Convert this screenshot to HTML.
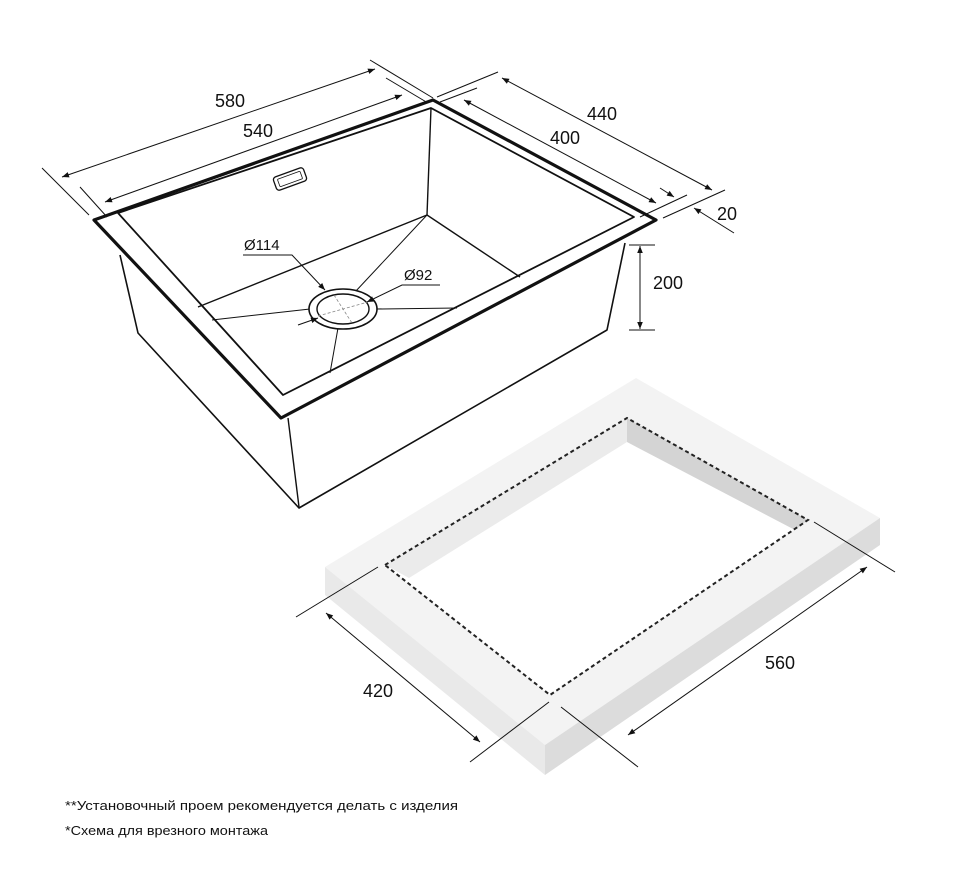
<!DOCTYPE html>
<html><head><meta charset="utf-8"><style>
html,body{margin:0;padding:0;background:#fff;}
svg{display:block;}
text{font-family:"Liberation Sans",sans-serif;fill:#111;}
</style></head><body>
<svg width="960" height="892" viewBox="0 0 960 892" xmlns="http://www.w3.org/2000/svg">
<defs>
<marker id="a" viewBox="0 0 10 10" refX="10" refY="5" markerWidth="9" markerHeight="7" orient="auto-start-reverse" markerUnits="userSpaceOnUse"><path d="M0,1 L10,5 L0,9 z" fill="#111"/></marker>
</defs>

<!-- Countertop -->
<polygon points="325,567 636,378 880,518 545,745" fill="#f3f3f3"/>
<polygon points="325,567 545,745 545,775 325,595" fill="#e9e9e9"/>
<polygon points="545,745 880,518 880,545 545,775" fill="#dcdcdc"/>
<polygon points="385,565 627,418 808,520 550,695" fill="#fff"/>
<polygon points="385,565 627,418 627,442 409,578" fill="#ebebeb"/>
<polygon points="627,418 808,520 795,530 627,442" fill="#d4d4d4"/>
<polygon points="385,565 627,418 808,520 550,695" fill="none" stroke="#222" stroke-width="2" stroke-dasharray="4,3"/>

<g stroke="#111" stroke-width="1" fill="none">
<line x1="296" y1="617" x2="378" y2="567"/>
<line x1="470" y1="762" x2="549" y2="702"/>
<line x1="326" y1="613" x2="480" y2="742" marker-start="url(#a)" marker-end="url(#a)"/>
<line x1="561" y1="707" x2="638" y2="767"/>
<line x1="814" y1="522" x2="895" y2="572"/>
<line x1="628" y1="735" x2="867" y2="567" marker-start="url(#a)" marker-end="url(#a)"/>
</g>
<text x="378" y="697" font-size="18" text-anchor="middle">420</text>
<text x="780" y="669" font-size="18" text-anchor="middle">560</text>

<!-- Sink body -->
<g stroke="#111" fill="none" stroke-linejoin="round">
<polyline points="120,255 138,333 299,508 607,330 625,243" stroke-width="1.6"/>
<line x1="288" y1="418" x2="299" y2="507" stroke-width="1.4"/>
<polygon points="94,220 433,100 656,220 281,418" stroke-width="3.2"/>
<polygon points="118,213 431,108 634,217 283,395" stroke-width="1.8"/>
<line x1="431" y1="108" x2="427" y2="215" stroke-width="1.4"/>
<line x1="427" y1="215" x2="198" y2="307" stroke-width="1.4"/>
<line x1="427" y1="215" x2="520" y2="277" stroke-width="1.4"/>
<line x1="427" y1="215" x2="355" y2="292" stroke-width="1"/>
<line x1="310" y1="309" x2="212" y2="320" stroke-width="1"/>
<line x1="377" y1="309" x2="457" y2="308" stroke-width="1"/>
<line x1="338" y1="328" x2="330" y2="373" stroke-width="1"/>
<ellipse cx="343" cy="309" rx="34" ry="20" stroke-width="1.6" fill="#fff"/>
<ellipse cx="343" cy="309" rx="26" ry="15" stroke-width="1.4"/>
<line x1="318" y1="316" x2="368" y2="302" stroke="#888" stroke-width="0.8" stroke-dasharray="3,2"/>
<line x1="334" y1="295" x2="352" y2="323" stroke="#888" stroke-width="0.8" stroke-dasharray="3,2"/>
<rect x="274" y="172" width="32" height="14" rx="3" transform="rotate(-20 290 179)" stroke-width="1.3"/>
<rect x="278" y="175" width="24" height="8" rx="1" transform="rotate(-20 290 179)" stroke-width="0.8"/>
</g>

<g stroke="#111" stroke-width="1" fill="none">
<polyline points="243,255 292,255 325,290" marker-end="url(#a)"/>
<polyline points="440,285 402,285 367,302" marker-end="url(#a)"/>
<line x1="298" y1="325" x2="318" y2="318" marker-end="url(#a)"/>
<!-- 580 -->
<line x1="42" y1="168" x2="89" y2="215"/>
<line x1="370" y1="60" x2="433" y2="98"/>
<line x1="62" y1="177" x2="375" y2="69" marker-start="url(#a)" marker-end="url(#a)"/>
<!-- 540 -->
<line x1="80" y1="187" x2="107" y2="217"/>
<line x1="386" y1="78" x2="428" y2="103"/>
<line x1="105" y1="202" x2="402" y2="95" marker-start="url(#a)" marker-end="url(#a)"/>
<!-- 440/400 -->
<line x1="437" y1="97" x2="498" y2="72"/>
<line x1="440" y1="102" x2="477" y2="88"/>
<line x1="502" y1="78" x2="712" y2="190" marker-start="url(#a)" marker-end="url(#a)"/>
<line x1="464" y1="100" x2="656" y2="203" marker-start="url(#a)" marker-end="url(#a)"/>
<line x1="640" y1="217" x2="687" y2="195"/>
<line x1="663" y1="218" x2="725" y2="190"/>
<line x1="660" y1="188" x2="674" y2="197" marker-end="url(#a)"/>
<line x1="734" y1="233" x2="694" y2="208" marker-end="url(#a)"/>
<!-- 200 -->
<line x1="629" y1="245" x2="655" y2="245"/>
<line x1="629" y1="330" x2="655" y2="330"/>
<line x1="640" y1="246" x2="640" y2="329" marker-start="url(#a)" marker-end="url(#a)"/>
</g>

<text x="230" y="107" font-size="18" text-anchor="middle">580</text>
<text x="258" y="137" font-size="18" text-anchor="middle">540</text>
<text x="602" y="120" font-size="18" text-anchor="middle">440</text>
<text x="565" y="144" font-size="18" text-anchor="middle">400</text>
<text x="727" y="220" font-size="18" text-anchor="middle">20</text>
<text x="668" y="289" font-size="18" text-anchor="middle">200</text>
<text x="244" y="250" font-size="15">Ø114</text>
<text x="404" y="280" font-size="15">Ø92</text>

<text x="65" y="810" font-size="13" textLength="393" lengthAdjust="spacingAndGlyphs">**Установочный проем рекомендуется делать с изделия</text>
<text x="65" y="835" font-size="13" textLength="203" lengthAdjust="spacingAndGlyphs">*Схема для врезного монтажа</text>
</svg>
</body></html>
